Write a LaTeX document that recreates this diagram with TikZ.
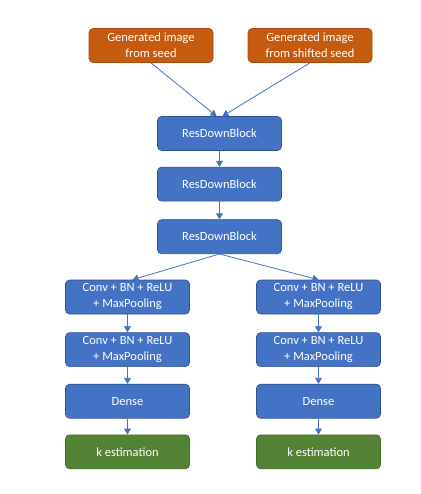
\documentclass[tikz,border=0pt]{standalone}
\usepackage{fontspec}
\setmainfont{Carlito}
\usetikzlibrary{positioning}
\usetikzlibrary{arrows.meta}

\definecolor{seedorange}{HTML}{C55A11}
\definecolor{blockblue}{HTML}{4472C4}
\definecolor{blockedge}{HTML}{2F528F}
\definecolor{outgreen}{HTML}{548235}

\begin{document}
\begin{tikzpicture}[x=1pt,y=-1pt,
  font=\fontsize{12.5}{16}\selectfont,
  every node/.style={rounded corners=4pt,text=white,align=center,
    minimum width=124pt,minimum height=34pt,inner sep=1pt,line width=0.6pt},
  seedbox/.style={fill=seedorange,draw=seedorange!85!black},
  blockbox/.style={fill=blockblue,draw=blockedge},
  outbox/.style={fill=outgreen,draw=outgreen!85!black},
  flow/.style={draw=blockblue,line width=0.8pt,-{Triangle[length=6pt,width=7pt]}}]
  \useasboundingbox (0,0) rectangle (420,494);
  % inputs
  \node[seedbox] (seedA) at (151,45.5) {Generated image\\from seed};
  \node[seedbox] (seedB) at (310,45.5) {Generated image\\from shifted seed};
  % shared trunk
  \node[blockbox] (res1) at (219.5,133.5) {ResDownBlock};
  \node[blockbox, below=16pt of res1] (res2) {ResDownBlock};
  \node[blockbox, below=18pt of res2] (res3) {ResDownBlock};
  % left head
  \node[blockbox] (convL1) at (127.5,297) {Conv + BN + ReLU\\+ MaxPooling};
  \node[blockbox, below=18pt of convL1] (convL2) {Conv + BN + ReLU\\+ MaxPooling};
  \node[blockbox, below=17pt of convL2] (denseL) {Dense};
  \node[outbox, below=16pt of denseL] (kL) {k estimation};
  % right head
  \node[blockbox] (convR1) at (318.5,297) {Conv + BN + ReLU\\+ MaxPooling};
  \node[blockbox, below=18pt of convR1] (convR2) {Conv + BN + ReLU\\+ MaxPooling};
  \node[blockbox, below=17pt of convR2] (denseR) {Dense};
  \node[outbox, below=16pt of denseR] (kR) {k estimation};

  \draw[flow] (seedA.south) -- ([xshift=-3pt]res1.north);
  \draw[flow] (seedB.south) -- ([xshift=3pt]res1.north);
  \draw[flow] (res1) -- (res2);
  \draw[flow] (res2) -- (res3);
  \draw[flow] (res3.south) -- ([xshift=5pt]convL1.north);
  \draw[flow] (res3.south) -- (convR1.north);
  \draw[flow] (convL1) -- (convL2);
  \draw[flow] (convL2) -- (denseL);
  \draw[flow] (denseL) -- (kL);
  \draw[flow] (convR1) -- (convR2);
  \draw[flow] (convR2) -- (denseR);
  \draw[flow] (denseR) -- (kR);
\end{tikzpicture}
\end{document}
